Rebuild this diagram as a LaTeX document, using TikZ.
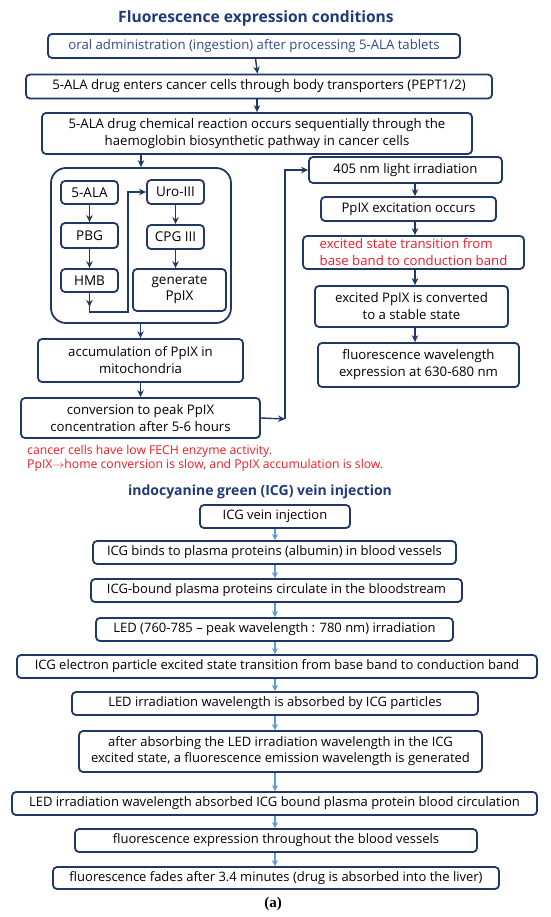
\documentclass[tikz,border=0pt]{standalone}
\usepackage{fontspec}
\setmainfont{Open Sans}
\newfontfamily\capfont{Liberation Serif}
\usepackage{tikz}
\usetikzlibrary{positioning, arrows.meta}
\usepackage{xcolor}

\definecolor{navy}{HTML}{1F3864}
\definecolor{headblue}{HTML}{1F3A78}
\definecolor{textblue}{HTML}{2E4A8A}
\definecolor{warn}{HTML}{EE1C25}
\definecolor{ltblue}{HTML}{5B9BD5}

\begin{document}
\begin{tikzpicture}[x=1pt, y=-1pt, >={Stealth[length=7pt, width=6.5pt]},
    box/.style={draw=navy, line width=1.8pt, rounded corners=4pt, minimum height=24pt,
        inner sep=2pt, align=center, font=\fontsize{13.2}{17}\selectfont},
    sbox/.style={box, minimum width=57pt, font=\fontsize{13.5}{16}\selectfont},
    ibox/.style={box, minimum height=23pt, font=\fontsize{13}{16}\selectfont},
    head/.style={text=headblue, font=\bfseries\fontsize{15.6}{18}\selectfont},
    arr/.style={->, draw=navy, line width=1.4pt},
    arrb/.style={-{Stealth[length=6pt, width=6pt]}, draw=ltblue, line width=1.5pt}]

\useasboundingbox (0,0) rectangle (550,917);

% Fluorescence expression conditions (5-ALA)
\node[head] (t1) at (256,18) {Fluorescence expression conditions};
\node[box, minimum width=412pt, text=textblue] (oral) at (254,46) {oral administration (ingestion) after processing 5-ALA tablets};
\node[box, minimum width=466pt] (enter) at (259,86.5) {5-ALA drug enters cancer cells through body transporters (PEPT1/2)};
\node[box, minimum width=430pt, minimum height=41pt] (react) at (257,133.5) {5-ALA drug chemical reaction occurs sequentially through the\\ haemoglobin biosynthetic pathway in cancer cells};
\draw[arr] (oral) -- (enter);
\draw[arr] (enter.south -| react.north) -- (react.north);

% Biosynthetic pathway
\node[draw=navy, line width=1.8pt, rounded corners=15pt, minimum width=180pt, minimum height=155pt] (path) at (141,245.5) {};
\node[sbox, minimum height=23pt] (ala) at (89.5,192.5) {5-ALA};
\node[sbox, minimum height=25pt] (pbg) at (89.5,235.5) {PBG};
\node[sbox, minimum height=23pt] (hmb) at (89.5,280.5) {HMB};
\node[sbox] (uro) at (175.5,192) {Uro-III};
\node[sbox] (cpg) at (175.5,237) {CPG III};
\node[sbox, minimum width=93pt, minimum height=42pt] (ppix) at (179.5,290) {generate\\ PpIX};
\draw[arr] (ala) -- (pbg);
\draw[arr] (pbg) -- (hmb);
\draw[arr] (hmb.south) -- ++(0,14);
\draw[arr] (hmb.south) -- ++(0,19) -| ([xshift=-18pt]uro.west) -- (uro.west);
\draw[arr] (uro.south -| cpg.north) -- (cpg.north);
\draw[arr] (cpg.south) -- (cpg.south |- ppix.north);
\draw[arr] (react.south -| path.north) -- (path.north);

% Accumulation
\node[box, minimum width=205pt, minimum height=43pt] (accum) at (140.5,360.5) {accumulation of PpIX in\\ mitochondria};
\node[box, minimum width=239pt, minimum height=40pt] (conv) at (140.5,418) {conversion to peak PpIX\\ concentration after 5-6 hours};
\draw[arr] (path.south -| accum.north) -- (accum.north);
\draw[arr] (accum) -- (conv);
\node[anchor=west, align=left, text=warn, inner sep=0pt, font=\fontsize{12.2}{14}\selectfont] (note) at (27,458) {cancer cells have low FECH enzyme activity.\\ PpIX$\rightarrow$home conversion is slow, and PpIX accumulation is slow.};

% Light irradiation column
\coordinate (turn) at (285,419);
\coordinate (xr) at (415,0);
\node[box, minimum width=193pt, minimum height=26pt] (light) at (405.5,170) {405 nm light irradiation};
\node[box, minimum width=175pt] (excite) at (408.5,209) {PpIX excitation occurs};
\node[box, minimum width=221pt, minimum height=33pt, text=warn, align=left] (trans) at (413.5,252.5) {excited state transition from\\ base band to conduction band};
\node[box, minimum width=193pt, minimum height=41pt] (stable) at (411.5,306.5) {excited PpIX is converted\\ to a stable state};
\node[box, minimum width=201pt, minimum height=44pt] (wave) at (418.5,365) {fluorescence wavelength\\ expression at 630-680 nm};
\draw[arr] (conv.east) -- (turn);
\draw[arr] (turn) |- (light.west);
\draw[arr] (light.south -| xr) -- (excite.north -| xr);
\draw[arr] (excite.south -| xr) -- (trans.north -| xr);
\draw[arr] (trans.south -| xr) -- (stable.north -| xr);
\draw[arr] (stable.south -| xr) -- (wave.north -| xr);

% ICG vein injection
\node[head, font=\bfseries\fontsize{14}{16}\selectfont] (t2) at (260,492) {indocyanine green (ICG) vein injection};
\coordinate (xc) at (275,0);
\node[ibox, minimum width=150pt] (c1) at (275,516.5) {ICG vein injection};
\node[ibox, minimum width=363pt] (c2) at (274.5,552.5) {ICG binds to plasma proteins (albumin) in blood vessels};
\node[ibox, minimum width=371pt] (c3) at (276.5,590.5) {ICG-bound plasma proteins circulate in the bloodstream};
\node[ibox, minimum width=357pt] (c4) at (274.5,629.5) {LED (760-785 -- peak wavelength : 780 nm) irradiation};
\node[ibox, minimum width=520pt] (c5) at (277,666.5) {ICG electron particle excited state transition from base band to conduction band};
\node[ibox, minimum width=406pt] (c6) at (275,703.5) {LED irradiation wavelength is absorbed by ICG particles};
\node[ibox, minimum width=403pt, minimum height=41pt] (c7) at (280.5,751.5) {after absorbing the LED irradiation wavelength in the ICG\\ excited state, a fluorescence emission wavelength is generated};
\node[ibox, minimum width=525pt] (c8) at (274.5,803.5) {LED irradiation wavelength absorbed ICG bound plasma protein blood circulation};
\node[ibox, minimum width=402pt] (c9) at (276,840.5) {fluorescence expression throughout the blood vessels};
\node[ibox, minimum width=446pt, minimum height=22pt] (c10) at (276,878) {fluorescence fades after 3.4 minutes (drug is absorbed into the liver)};
\foreach \i/\j in {1/2,2/3,3/4,4/5,5/6,6/7,7/8,8/9,9/10} {
    \draw[arrb] (c\i.south -| xc) -- (c\j.north -| xc);
}

\node[font=\capfont\bfseries\fontsize{15}{16}\selectfont] (cap) at (273,904) {(a)};

\end{tikzpicture}
\end{document}
